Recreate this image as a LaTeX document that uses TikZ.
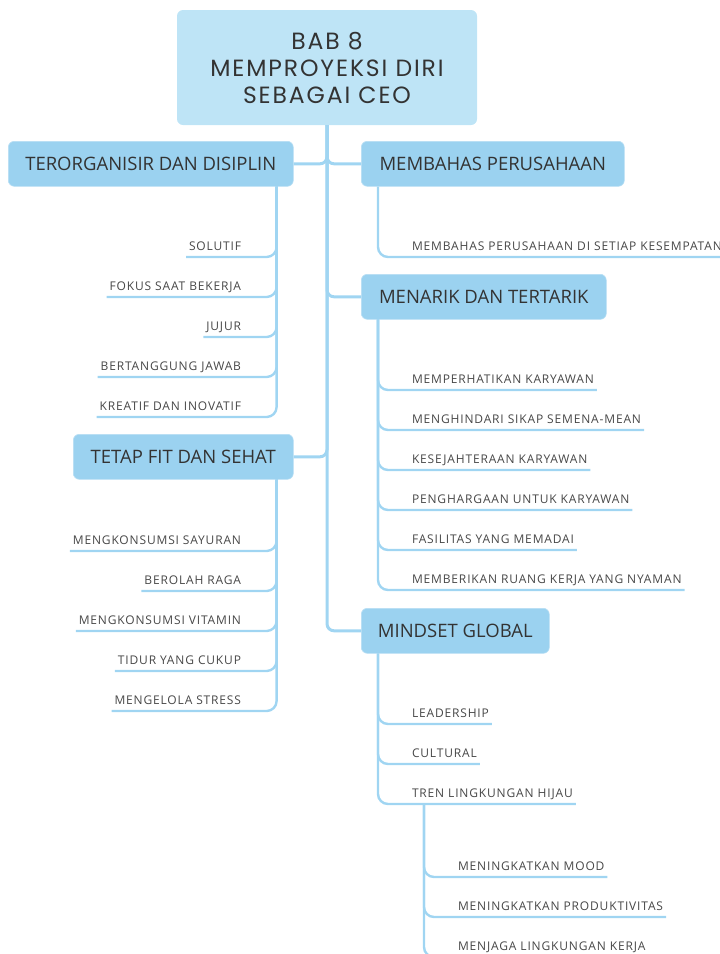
\documentclass[tikz,border=0pt]{standalone}
\usepackage{fontspec}
\usetikzlibrary{calc}
\newfontfamily\rootfont[LetterSpace=8]{Poppins}
\newfontfamily\boxfont{Open Sans}
\newfontfamily\itemfont[LetterSpace=7]{Open Sans}
\definecolor{rootfill}{RGB}{190,228,246}
\definecolor{boxfill}{RGB}{155,210,240}
\definecolor{linkcol}{RGB}{160,213,242}
\definecolor{inkcol}{RGB}{51,51,51}
\begin{document}
\begin{tikzpicture}[x=1pt,y=-1pt,
  rootbox/.style={fill=rootfill, rounded corners=6pt, minimum width=300pt, minimum height=115pt,
    align=center, text=inkcol, font=\rootfont\fontsize{23.5}{27}\selectfont, inner sep=0pt},
  topic/.style={fill=boxfill, draw=boxfill!70!white, line width=0.6pt, rounded corners=6pt,
    minimum height=45pt, text=inkcol, font=\boxfont\fontsize{18.5}{20}\selectfont, inner sep=0pt, anchor=north west},
  leaf/.style={text=inkcol!90!white, font=\itemfont\fontsize{12}{14}\selectfont, inner xsep=3pt, inner ysep=6.5pt,
    text depth=0pt, outer sep=0pt},
  trunk/.style={draw=linkcol, line width=3pt, rounded corners=7pt},
  twig/.style={draw=linkcol, line width=2.4pt, rounded corners=10pt}]
\useasboundingbox (0,0) rectangle (720,954);

% central topic
\node[rootbox] (root) at (327,67.5) {BAB 8\\MEMPROYEKSI DIRI\\SEBAGAI CEO};

% main topics
\node[topic, minimum width=285pt] (t1) at (8,141) {TERORGANISIR DAN DISIPLIN};
\node[topic, minimum width=220pt] (t2) at (73,434) {TETAP FIT DAN SEHAT};
\node[topic, minimum width=263pt] (r1) at (361,141) {MEMBAHAS PERUSAHAAN};
\node[topic, minimum width=245pt] (r2) at (361,274) {MENARIK DAN TERTARIK};
\node[topic, minimum width=188pt] (r3) at (361,608) {MINDSET GLOBAL};

% trunk links
\path[trunk] (root.south) |- (t1.east);
\path[trunk] (root.south) |- (t2.east);
\path[trunk] (root.south) |- (r1.west);
\path[trunk] (root.south) |- (r2.west);
\path[trunk] (root.south) |- (r3.west);

% stems under each topic
\coordinate (t1s) at ($(t1.south east)+(-17,0)$);
\coordinate (t2s) at ($(t2.south east)+(-17,0)$);
\coordinate (r1s) at ($(r1.south west)+(17,0)$);
\coordinate (r2s) at ($(r2.south west)+(17,0)$);
\coordinate (r3s) at ($(r3.south west)+(17,0)$);

% left leaves
\foreach \name/\txt/\uy in {a1/SOLUTIF/257, a2/FOKUS SAAT BEKERJA/297, a3/JUJUR/337,
    a4/BERTANGGUNG JAWAB/377, a5/KREATIF DAN INOVATIF/417} {
  \node[leaf, anchor=south east] (\name) at (244,\uy) {\txt};
  \path[twig] (t1s) |- (\name.south west);
}
\foreach \name/\txt/\uy in {b1/MENGKONSUMSI SAYURAN/551, b2/BEROLAH RAGA/591,
    b3/MENGKONSUMSI VITAMIN/631, b4/TIDUR YANG CUKUP/671, b5/MENGELOLA STRESS/711} {
  \node[leaf, anchor=south east] (\name) at (244,\uy) {\txt};
  \path[twig] (t2s) |- (\name.south west);
}

% right leaves
\node[leaf, anchor=south west] (c1) at (409,257) {MEMBAHAS PERUSAHAAN DI SETIAP KESEMPATAN};
\path[twig] (r1s) |- ($(c1.south east)+(20,0)$);

\foreach \name/\txt/\uy in {d1/MEMPERHATIKAN KARYAWAN/390, d2/MENGHINDARI SIKAP SEMENA-MEAN/430,
    d3/KESEJAHTERAAN KARYAWAN/470, d4/PENGHARGAAN UNTUK KARYAWAN/510,
    d5/FASILITAS YANG MEMADAI/550, d6/MEMBERIKAN RUANG KERJA YANG NYAMAN/590} {
  \node[leaf, anchor=south west] (\name) at (409,\uy) {\txt};
  \path[twig] (r2s) |- (\name.south east);
}

\foreach \name/\txt/\uy in {e1/LEADERSHIP/724, e2/CULTURAL/764, e3/TREN LINGKUNGAN HIJAU/804} {
  \node[leaf, anchor=south west] (\name) at (409,\uy) {\txt};
  \path[twig] (r3s) |- (\name.south east);
}

\coordinate (e3s) at ($(e3.south west)+(15,0)$);
\foreach \name/\txt/\uy in {f1/MENINGKATKAN MOOD/877, f2/MENINGKATKAN PRODUKTIVITAS/917,
    f3/MENJAGA LINGKUNGAN KERJA/957} {
  \node[leaf, anchor=south west] (\name) at (455,\uy) {\txt};
  \path[twig] (e3s) |- (\name.south east);
}
\end{tikzpicture}
\end{document}
